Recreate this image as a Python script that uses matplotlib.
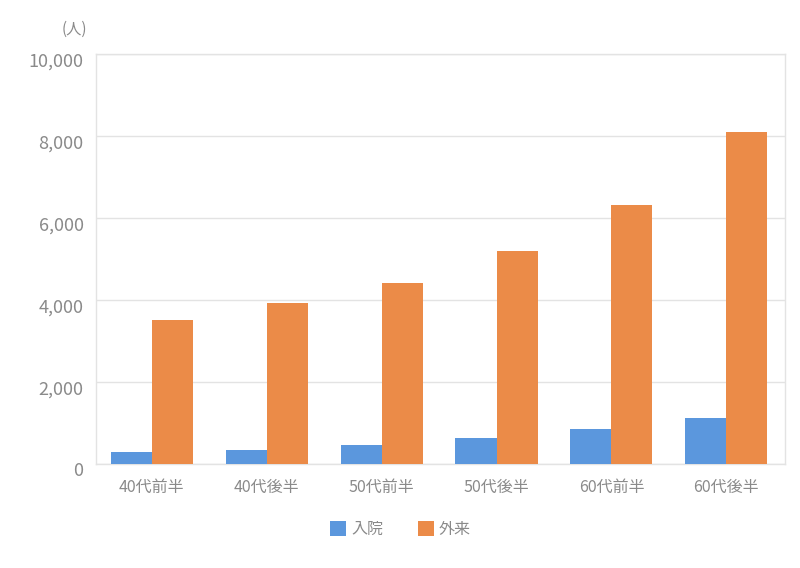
import matplotlib
matplotlib.use("Agg")
import matplotlib.pyplot as plt
import matplotlib.transforms as mtransforms
import numpy as np

plt.rcParams['font.family'] = ['Noto Sans CJK JP', 'DejaVu Sans']

categories = ["40代前半", "40代後半", "50代前半", "50代後半", "60代前半", "60代後半"]
inpatient = [270, 320, 440, 620, 840, 1120]
outpatient = [3510, 3930, 4410, 5190, 6320, 8100]
series_names = ["入院", "外来"]
yticks = [0, 2000, 4000, 6000, 8000, 10000]

blue = "#5b97dd"
orange = "#eb8b48"
gray = "#8a8a8a"
light = "#e3e3e3"

fig = plt.figure(figsize=(8, 5.68), dpi=100)
ax = fig.add_axes([96/800, 1-463.5/568, 689/800, 409.5/568])

x = np.arange(len(categories))
w = 0.357
ax.bar(x - w/2, inpatient, w, color=blue, label=series_names[0], zorder=3)
ax.bar(x + w/2, outpatient, w, color=orange, label=series_names[1], zorder=3)

ax.set_xlim(-0.485, len(categories) - 0.49)
ax.set_ylim(0, 10000)
ax.set_yticks(yticks)
ax.set_yticklabels([f"{v:,}" for v in yticks], fontsize=13, color=gray)
ax.set_xticks(x)
ax.set_xticklabels(categories, fontsize=11.5, color=gray)
ax.tick_params(axis='both', length=0)
ax.tick_params(axis='y', pad=9)
ax.tick_params(axis='x', pad=11)
offset = mtransforms.ScaledTranslation(0, -6/100, fig.dpi_scale_trans)
for lab in ax.get_yticklabels():
    lab.set_transform(lab.get_transform() + offset)
ax.grid(axis='y', color=light, linewidth=1, zorder=0)
for s in ax.spines.values():
    s.set_color(light)
    s.set_linewidth(1)

fig.text(74/800, 1-29/568, "(人)", fontsize=11, color=gray, ha='center', va='center')

leg = fig.legend(loc='center', bbox_to_anchor=(400.5/800, 1-529.5/568), ncol=2, frameon=False,
                 fontsize=11.5, handlelength=1.0, handleheight=1.0, columnspacing=2.2,
                 handletextpad=0.3)
for t in leg.get_texts():
    t.set_color(gray)

fig.savefig("out.png", dpi=100)
